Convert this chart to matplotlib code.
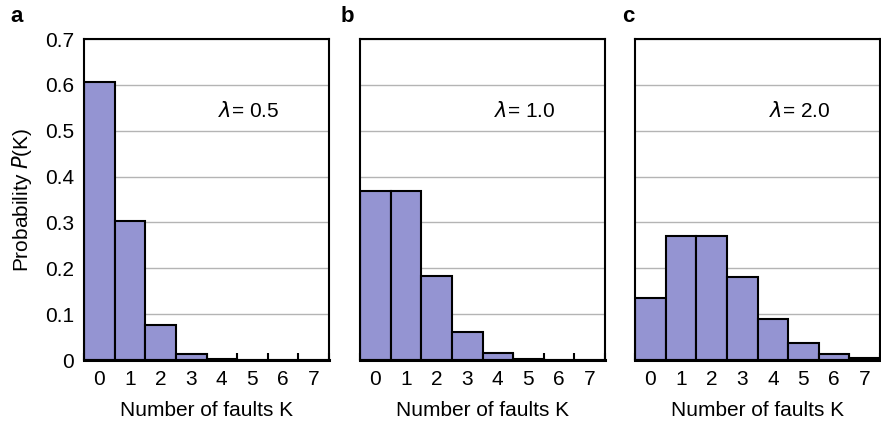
import matplotlib
matplotlib.use("Agg")
import matplotlib.pyplot as plt
import numpy as np

# Poisson probabilities
faults = [0, 1, 2, 3, 4, 5, 6, 7]
p_lam05 = [0.607, 0.303, 0.076, 0.013, 0.002, 0.0002, 0.0, 0.0]
p_lam10 = [0.368, 0.368, 0.184, 0.061, 0.015, 0.003, 0.0005, 0.0001]
p_lam20 = [0.135, 0.271, 0.271, 0.180, 0.090, 0.036, 0.012, 0.0034]
panel_labels = ["a", "b", "c"]
lambda_labels = ["0.5", "1.0", "2.0"]
y_ticks = [0, 0.1, 0.2, 0.3, 0.4, 0.5, 0.6, 0.7]
y_ticklabels = ["0", "0.1", "0.2", "0.3", "0.4", "0.5", "0.6", "0.7"]

plt.rcParams["font.family"] = ["Liberation Sans", "DejaVu Sans"]
plt.rcParams["mathtext.fontset"] = "dejavusans"

BAR = "#9494d2"
GRID = "#b4b4b4"
FS = 15

fig = plt.figure(figsize=(8.81, 4.22), dpi=100)
lefts = [84, 360, 635]
label_x = [10, 341, 622]
series = [p_lam05, p_lam10, p_lam20]

for i, (left, vals) in enumerate(zip(lefts, series)):
    ax = fig.add_axes([left / 881, 1 - 360 / 422, 245 / 881, 321 / 422])
    ax.bar(faults, vals, width=1.0, color=BAR, edgecolor="black",
           linewidth=1.5, zorder=3)
    ax.set_xlim(-0.5, 7.5)
    ax.set_ylim(0, 0.7)
    ax.set_yticks(y_ticks)
    ax.yaxis.grid(True, color=GRID, linewidth=1.0, zorder=0)
    ax.set_axisbelow(True)
    ax.tick_params(axis="y", length=0, labelsize=FS, pad=7)
    if i == 0:
        ax.set_yticklabels(y_ticklabels)
        ax.set_ylabel("Probability $\\mathit{P}$(K)", fontsize=FS, labelpad=8)
    else:
        ax.set_yticklabels([])
    ax.set_xticks(faults)
    ax.set_xticks(np.arange(-0.5, 8, 1.0), minor=True)
    ax.tick_params(axis="x", which="major", length=0, labelsize=FS, pad=7)
    ax.tick_params(axis="x", which="minor", direction="in", length=5,
                   width=1.5, top=False)
    ax.set_xlabel("Number of faults K", fontsize=FS, labelpad=9)
    for s in ax.spines.values():
        s.set_linewidth(1.5)
        s.set_zorder(4)
    ax.spines["bottom"].set_linewidth(2.2)
    ax.text(0.545, 0.776, "$\\lambda$= " + lambda_labels[i], transform=ax.transAxes,
            fontsize=FS, va="center", ha="left")
    fig.text(label_x[i] / 881, 1 - 17 / 422, panel_labels[i], fontsize=16,
             fontweight="bold", va="center", ha="left")

fig.savefig("out.png", dpi=100)
